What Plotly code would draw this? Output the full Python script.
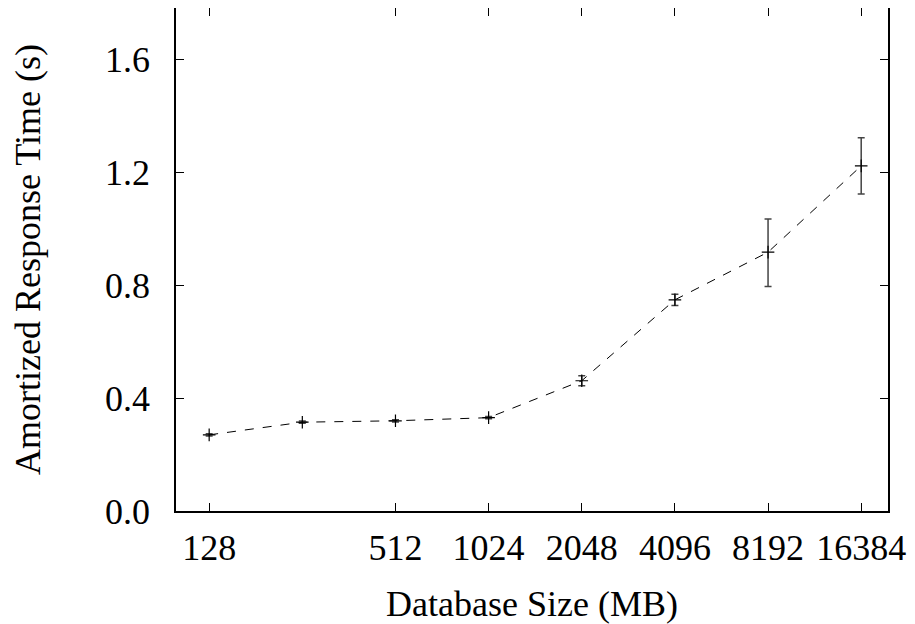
import math
import plotly.graph_objects as go

sizes = [128, 256, 512, 1024, 2048, 4096, 8192, 16384]
response = [0.270, 0.315, 0.320, 0.331, 0.462, 0.749, 0.918, 1.224]
err_plus = [0.004, 0.004, 0.004, 0.004, 0.018, 0.020, 0.118, 0.100]
err_minus = [0.004, 0.004, 0.004, 0.004, 0.018, 0.020, 0.122, 0.100]
x_ticks = [128, 512, 1024, 2048, 4096, 8192, 16384]
y_ticks = [0.0, 0.4, 0.8, 1.2, 1.6]

font = "Liberation Serif, Times New Roman, DejaVu Serif, serif"
fsize = 36

fig = go.Figure()
fig.add_trace(go.Scatter(
    x=sizes, y=response,
    mode="lines+markers",
    line=dict(color="black", width=1, dash="dash"),
    marker=dict(symbol="cross-thin", size=9, line=dict(color="black", width=1.2), color="black"),
    error_y=dict(type="data", symmetric=False, array=err_plus, arrayminus=err_minus,
                 color="#444444", thickness=1.5, width=3.5),
    showlegend=False,
))

axis_common = dict(
    showgrid=False, zeroline=False, showline=True, linecolor="black", linewidth=1.5,
    mirror="ticks", ticks="inside", ticklen=8, tickwidth=1, tickcolor="black",
    tickfont=dict(family=font, size=fsize, color="black"), automargin=False,
)

fig.update_layout(
    width=907, height=616,
    margin=dict(l=168, r=27, t=0, b=113, autoexpand=False),
    paper_bgcolor="white", plot_bgcolor="white",
    font=dict(family=font, color="black"),
    xaxis=dict(type="log", range=[2, math.log10(20000)],
               tickvals=x_ticks, ticktext=[str(v) for v in x_ticks],
               ticklabelstandoff=4,
               title=dict(text="Database Size (MB)", font=dict(family=font, size=fsize), standoff=30),
               **axis_common),
    yaxis=dict(range=[0, 1.784], tickvals=y_ticks, ticktext=[f"{v:.1f}" for v in y_ticks],
               ticklabelstandoff=17,
               title=dict(text="Amortized Response Time (s)", font=dict(family=font, size=fsize), standoff=53),
               **axis_common),
)

fig.write_html("out.html")
